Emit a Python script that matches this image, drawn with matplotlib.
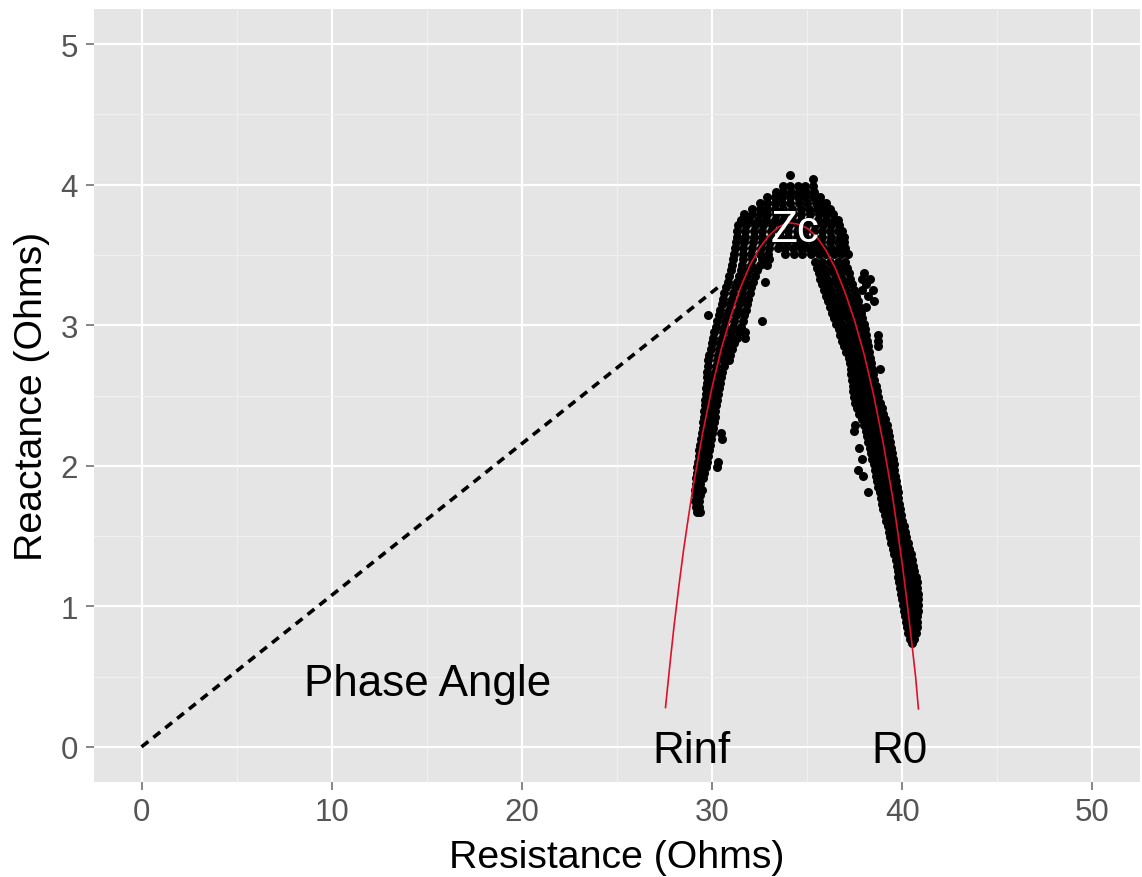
import matplotlib
matplotlib.use("Agg")
import matplotlib.pyplot as plt
from matplotlib.ticker import MultipleLocator

plt.rcParams['font.family'] = ['Liberation Sans', 'DejaVu Sans']

# ---------------- data ----------------
x_ticks = [0, 10, 20, 30, 40, 50]
y_ticks = [0, 1, 2, 3, 4, 5]

# measured impedance points, grouped in rows: (reactance, [resistances])
left_rows = [
    (1.67, [29.2, 29.35]),
    (1.71, [29.15, 29.3]),
    (1.75, [29.1, 29.3]),
    (1.79, [29.15, 29.35]),
    (1.83, [29.1, 29.3, 29.45]),
    (1.87, [29.15, 29.35]),
    (1.91, [29.15, 29.3, 29.5]),
    (1.95, [29.2, 29.4, 29.6]),
    (1.99, [29.2, 29.45, 29.7, 30.25]),
    (2.03, [29.25, 29.5, 29.75, 30.3]),
    (2.07, [29.3, 29.55, 29.8]),
    (2.11, [29.3, 29.55, 29.85]),
    (2.15, [29.35, 29.6, 29.9]),
    (2.19, [29.4, 29.65, 29.95, 30.5]),
    (2.23, [29.45, 29.7, 30.0, 30.45]),
    (2.27, [29.5, 29.75, 30.05]),
    (2.31, [29.52, 29.8, 30.1]),
    (2.35, [29.55, 29.85, 30.15]),
    (2.39, [29.6, 29.85, 30.15]),
    (2.43, [29.62, 29.9, 30.2]),
    (2.47, [29.65, 29.95, 30.25]),
    (2.51, [29.68, 30.0, 30.3]),
    (2.55, [29.7, 30.0, 30.35]),
    (2.59, [29.72, 30.05, 30.4]),
    (2.63, [29.75, 30.1, 30.45]),
    (2.67, [29.75, 30.15, 30.5]),
    (2.71, [29.8, 30.2, 30.6]),
    (2.75, [29.8, 30.25, 30.65, 30.9]),
    (2.79, [29.85, 30.3, 30.7, 30.95]),
    (2.83, [29.95, 30.35, 30.75, 31.05]),
    (2.87, [30.0, 30.4, 30.85, 31.15]),
    (2.91, [30.05, 30.5, 30.95, 31.3, 31.75]),
    (2.95, [30.1, 30.55, 31.0, 31.4, 31.75]),
    (2.99, [30.2, 30.65, 31.1, 31.5]),
    (3.03, [30.25, 30.7, 31.15, 31.6, 32.65]),
    (3.07, [29.8, 30.35, 30.8, 31.25, 31.7]),
    (3.11, [30.4, 30.9, 31.35, 31.8]),
    (3.15, [30.5, 30.95, 31.4, 31.85]),
    (3.19, [30.55, 31.05, 31.5, 31.9]),
    (3.23, [30.65, 31.1, 31.55, 32.0]),
    (3.27, [30.75, 31.2, 31.65, 32.05]),
    (3.31, [30.85, 31.3, 31.75, 32.15, 32.8]),
    (3.35, [30.9, 31.4, 31.85, 32.25]),
    (3.39, [31.0, 31.5, 31.95, 32.35]),
    (3.43, [31.05, 31.55, 32.05, 32.5, 32.9]),
    (3.47, [31.1, 31.6, 32.1, 32.6, 33.0]),
]

top_rows = [
    (3.51, [31.15, 31.6, 32.05, 32.5, 32.95, 33.85, 34.3, 34.75, 35.2, 35.6, 36.0, 36.4, 36.8, 37.15]),
    (3.55, [31.2, 31.65, 32.1, 32.55, 33.0, 33.45, 33.85, 34.25, 34.65, 35.05, 35.45, 35.85, 36.25, 36.65, 37.0]),
    (3.59, [31.25, 31.7, 32.15, 32.6, 33.05, 33.5, 33.95, 34.4, 34.85, 35.3, 35.75, 36.2, 36.6, 36.95]),
    (3.63, [31.3, 31.75, 32.2, 32.65, 33.1, 33.55, 34.0, 34.45, 34.9, 35.35, 35.8, 36.25, 36.7, 36.95]),
    (3.67, [31.3, 31.75, 32.2, 32.65, 33.1, 33.55, 34.0, 34.45, 34.9, 35.35, 35.8, 36.2, 36.6, 36.85]),
    (3.71, [31.35, 31.8, 32.25, 32.7, 33.15, 33.6, 34.05, 34.5, 34.95, 35.4, 35.85, 36.25, 36.65]),
    (3.75, [31.5, 31.95, 32.4, 32.85, 33.3, 33.75, 34.2, 34.65, 35.1, 35.55, 36.0, 36.4, 36.6]),
    (3.79, [31.7, 32.1, 32.5, 32.9, 33.35, 33.8, 34.25, 34.7, 35.15, 35.6, 36.0, 36.35]),
    (3.83, [32.1, 32.5, 32.9, 33.3, 33.75, 34.2, 34.65, 35.1, 35.5, 35.9, 36.2]),
    (3.87, [32.5, 32.9, 33.3, 33.7, 34.1, 34.55, 35.0, 35.45, 35.8, 36.0]),
    (3.91, [32.9, 33.3, 33.7, 34.1, 34.5, 34.9, 35.3, 35.65]),
    (3.95, [33.35, 33.75, 34.15, 34.55, 34.95, 35.35]),
    (3.99, [33.75, 34.1, 34.5, 34.9, 35.3]),
    (4.04, [35.3]),
    (4.07, [34.1]),
]

right_rows = [
    (3.45, [35.4, 35.8, 36.2, 36.6, 37.0]),
    (3.41, [35.5, 35.9, 36.3, 36.7, 37.1]),
    (3.37, [35.6, 36.0, 36.4, 36.8, 37.2, 38.0]),
    (3.33, [35.7, 36.05, 36.45, 36.85, 37.25, 37.9, 38.3]),
    (3.29, [35.8, 36.15, 36.55, 36.95, 37.35, 38.1]),
    (3.25, [35.9, 36.25, 36.65, 37.05, 37.45, 37.9, 38.45]),
    (3.21, [36.0, 36.35, 36.75, 37.15, 37.55, 38.2]),
    (3.17, [36.1, 36.45, 36.85, 37.25, 37.65, 38.5]),
    (3.13, [36.2, 36.55, 36.95, 37.35, 37.75, 38.1]),
    (3.09, [36.3, 36.65, 37.05, 37.45, 37.85]),
    (3.05, [36.4, 36.75, 37.15, 37.55, 37.9]),
    (3.01, [36.5, 36.85, 37.25, 37.65, 38.0]),
    (2.97, [36.65, 37.0, 37.35, 37.7, 38.05]),
    (2.93, [36.75, 37.1, 37.45, 37.8, 38.1, 38.7]),
    (2.89, [36.85, 37.2, 37.55, 37.9, 38.15, 38.75]),
    (2.85, [36.95, 37.3, 37.6, 37.95, 38.2, 38.7]),
    (2.81, [37.05, 37.4, 37.7, 38.0, 38.25]),
    (2.77, [37.2, 37.5, 37.8, 38.1, 38.3]),
    (2.73, [37.25, 37.55, 37.85, 38.15, 38.35]),
    (2.69, [37.3, 37.6, 37.9, 38.2, 38.4, 38.85]),
    (2.65, [37.3, 37.6, 37.95, 38.25, 38.45]),
    (2.61, [37.35, 37.65, 38.0, 38.3, 38.5]),
    (2.57, [37.4, 37.7, 38.05, 38.35, 38.6]),
    (2.53, [37.4, 37.75, 38.1, 38.4, 38.65]),
    (2.49, [37.45, 37.8, 38.15, 38.45, 38.75]),
    (2.45, [37.5, 37.85, 38.2, 38.5, 38.85]),
    (2.41, [37.6, 37.95, 38.3, 38.6, 38.95]),
    (2.37, [37.75, 38.05, 38.4, 38.7, 39.0]),
    (2.33, [37.9, 38.15, 38.45, 38.75, 39.1]),
    (2.29, [37.5, 38.0, 38.3, 38.6, 38.9, 39.2]),
    (2.25, [37.45, 38.1, 38.4, 38.7, 39.0, 39.25]),
    (2.21, [38.15, 38.45, 38.75, 39.05, 39.3]),
    (2.17, [38.2, 38.5, 38.8, 39.1, 39.35]),
    (2.13, [37.7, 38.3, 38.6, 38.9, 39.15, 39.4]),
    (2.09, [38.35, 38.65, 38.95, 39.2, 39.45]),
    (2.05, [37.9, 38.4, 38.7, 39.0, 39.25, 39.5]),
    (2.01, [38.5, 38.8, 39.05, 39.3, 39.55]),
    (1.97, [37.65, 38.55, 38.85, 39.1, 39.35, 39.55]),
    (1.93, [37.95, 38.6, 38.9, 39.15, 39.4, 39.6]),
    (1.89, [38.65, 38.95, 39.2, 39.45, 39.65]),
    (1.85, [38.7, 39.0, 39.25, 39.5, 39.7]),
    (1.81, [38.2, 38.85, 39.1, 39.35, 39.55, 39.75]),
    (1.77, [38.9, 39.15, 39.4, 39.6, 39.8]),
    (1.73, [38.95, 39.2, 39.45, 39.65, 39.85]),
    (1.69, [39.0, 39.25, 39.5, 39.7, 39.9]),
    (1.65, [39.1, 39.3, 39.55, 39.75, 39.95]),
    (1.61, [39.15, 39.35, 39.6, 39.8, 40.0]),
    (1.57, [39.25, 39.45, 39.65, 39.85, 40.1]),
    (1.53, [39.3, 39.5, 39.7, 39.9, 40.15]),
    (1.49, [39.35, 39.55, 39.75, 40.0, 40.2]),
    (1.45, [39.4, 39.6, 39.8, 40.05, 40.3]),
    (1.41, [39.5, 39.7, 39.9, 40.1, 40.35]),
    (1.37, [39.55, 39.75, 39.95, 40.15, 40.45]),
    (1.33, [39.65, 39.85, 40.05, 40.25, 40.5]),
    (1.29, [39.7, 39.9, 40.1, 40.3, 40.55]),
    (1.25, [39.75, 39.95, 40.15, 40.35, 40.6]),
    (1.21, [39.8, 40.0, 40.2, 40.45, 40.7]),
    (1.17, [39.85, 40.05, 40.25, 40.5, 40.75]),
    (1.13, [39.9, 40.1, 40.3, 40.55, 40.8]),
    (1.09, [39.95, 40.15, 40.35, 40.6, 40.85]),
    (1.05, [40.0, 40.2, 40.4, 40.65, 40.85]),
    (1.01, [40.05, 40.25, 40.45, 40.65, 40.85]),
    (0.97, [40.1, 40.3, 40.5, 40.7, 40.85]),
    (0.93, [40.15, 40.35, 40.55, 40.75]),
    (0.89, [40.2, 40.4, 40.6, 40.8]),
    (0.85, [40.25, 40.45, 40.65, 40.75]),
    (0.81, [40.3, 40.5, 40.7]),
    (0.77, [40.4, 40.6]),
    (0.74, [40.5]),
]

# fitted (Cole) arc
red_x = [27.55, 27.8, 28.0, 28.25, 28.5, 28.75, 29.0, 29.5, 30.0, 30.5, 31.0, 31.5, 32.0,
         32.5, 33.0, 33.5, 34.0, 34.5, 35.0, 35.5, 36.0, 36.5, 37.0, 37.5, 38.0,
         38.5, 39.0, 39.5, 39.75, 40.0, 40.25, 40.5, 40.7, 40.85]
red_y = [0.28, 0.61, 0.86, 1.14, 1.40, 1.63, 1.85, 2.23, 2.56, 2.84, 3.07, 3.27, 3.43,
         3.55, 3.64, 3.70, 3.73, 3.72, 3.69, 3.63, 3.53, 3.40, 3.23, 3.03, 2.79,
         2.50, 2.16, 1.77, 1.54, 1.30, 1.03, 0.74, 0.50, 0.27]

# phase angle line
phase_x = [0.0, 30.5]
phase_y = [0.0, 3.29]

# ---------------- drawing ----------------
scatter_x, scatter_y = [], []
for rows in (left_rows, top_rows, right_rows):
    for yv, xs in rows:
        scatter_x.extend(xs)
        scatter_y.extend([yv] * len(xs))

fig = plt.figure(figsize=(11.42, 8.78), dpi=100)
ax = fig.add_axes([94 / 1142, 95 / 878, 1046 / 1142, 773 / 878])
ax.set_facecolor('#E5E5E5')
for s in ax.spines.values():
    s.set_visible(False)

ax.set_xlim(-2.5, 52.5)
ax.set_ylim(-0.25, 5.25)
ax.set_xticks(x_ticks)
ax.set_yticks(y_ticks)
ax.xaxis.set_minor_locator(MultipleLocator(5))
ax.yaxis.set_minor_locator(MultipleLocator(0.5))
ax.grid(which='major', color='white', linewidth=1.6)
ax.grid(which='minor', color='#F0F0F0', linewidth=0.8)
ax.set_axisbelow(True)

ax.tick_params(which='major', length=5.5, width=1.1, color='#666666',
               labelsize=22.5, labelcolor='#555555')
ax.tick_params(axis='x', which='major', pad=5)
ax.tick_params(axis='y', which='major', pad=6)
ax.tick_params(which='minor', length=0)

ax.plot(phase_x, phase_y, color='black', linewidth=2.6, dashes=(2.4, 1.8),
        dash_capstyle='butt', zorder=2)
ax.scatter(scatter_x, scatter_y, s=42, color='black', linewidths=0, zorder=3)
ax.plot(red_x, red_y, color='#e0102a', linewidth=1.2, zorder=4)

ax.text(15.04, 0.366, 'Phase Angle', fontsize=31.7, ha='center', va='baseline', color='black', zorder=5)
ax.text(28.92, -0.11, 'Rinf', fontsize=31.7, ha='center', va='baseline', color='black', zorder=5)
ax.text(39.83, -0.11, 'R0', fontsize=31.7, ha='center', va='baseline', color='black', zorder=5)
ax.text(34.38, 3.60, 'Zc', fontsize=31.7, ha='center', va='baseline', color='white', zorder=5)

fig.text(617 / 1142, 1 - 858 / 878, 'Resistance (Ohms)', fontsize=28.3,
         ha='center', va='center', color='black')
fig.text(32 / 1142, 1 - 396.5 / 878, 'Reactance (Ohms)', fontsize=28.3,
         ha='center', va='center', rotation=90, color='black')

fig.savefig('out.png', dpi=100)
